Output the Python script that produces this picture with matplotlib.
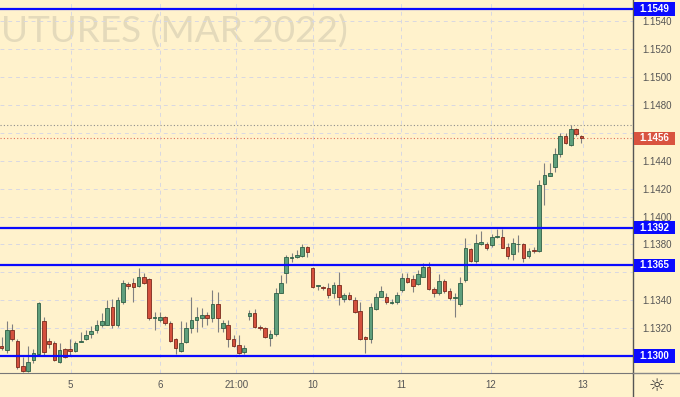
import numpy as np
import matplotlib.pyplot as plt
from matplotlib.patches import Rectangle
from matplotlib.lines import Line2D
from matplotlib import transforms

# Precios, en pips sobre la base 1.1300
base = 1.1300
opens = [7.2, 4.3, 18.6, 10.8, -7.2, -10.8, -2.9, 1.4, 25.1, 10.8, 9.3, -4.3, 5.0, 5.0, 3.6, 10.0, 12.2, 15.8, 18.6, 22.2,
         22.2, 35.1, 22.2, 38.7, 51.6, 52.3, 50.2, 56.6, 55.2, 27.2, 25.8, 28.0, 23.7, 12.2, 3.6, 10.0, 20.1, 25.8, 27.2, 29.4,
         27.2, 37.3, 20.1, 22.2, 12.2, 7.9, 2.6, 28.7, 30.8, 20.8, 20.1, 12.9, 15.8, 45.2, 59.5, 70.3, 71.0, 71.7, 78.1, 63.0,
         50.2, 49.5, 48.8, 45.0, 51.0, 40.7, 43.7, 40.2, 32.3, 13.8, 12.0, 33.7, 42.5, 42.5, 37.8, 38.5, 47.3, 55.7, 55.0, 51.6,
         56.9, 64.0, 47.8, 45.0, 53.8, 46.8, 41.8, 37.3, 54.5, 76.7, 68.3, 80.3, 80.1, 79.6, 85.5, 85.5, 78.4, 72.9, 80.3, 80.1,
         71.4, 76.0, 75.5, 123.1, 129.3, 135.7, 144.6, 157.7, 151.3, 162.5, 157.7]
highs = [13.6, 25.1, 22.9, 12.5, -0.7, 7.2, 5.0, 38.7, 28.0, 12.9, 10.8, 9.3, 5.7, 12.2, 10.8, 17.2, 18.6, 21.5, 25.8, 30.8,
         40.0, 41.0, 42.3, 54.5, 53.0, 55.9, 63.0, 59.5, 55.9, 31.5, 31.5, 28.7, 25.0, 12.9, 25.1, 24.4, 42.3, 35.0, 34.4, 31.5,
         47.3, 46.0, 25.8, 25.8, 15.0, 15.0, 7.9, 33.0, 33.7, 22.0, 20.8, 18.6, 48.8, 58.0, 72.4, 73.8, 76.0, 80.3, 78.9, 63.5,
         51.0, 50.5, 52.3, 53.3, 60.4, 45.0, 46.0, 42.5, 39.0, 14.3, 37.8, 45.0, 50.2, 45.0, 41.0, 46.0, 59.3, 59.3, 58.0, 61.7,
         66.9, 67.5, 49.7, 58.6, 55.5, 48.5, 45.0, 56.9, 84.4, 77.6, 87.3, 89.6, 81.9, 87.3, 91.0, 91.0, 80.8, 84.8, 86.8, 80.8,
         77.2, 78.4, 126.2, 138.2, 138.2, 148.9, 159.7, 159.7, 165.6, 163.3, 158.5]
lows = [4.3, 2.2, 10.8, -9.0, -11.5, -11.5, -5.0, 0.7, 0.7, 5.7, -3.6, -5.0, -1.4, 0.7, 3.0, 10.0, 11.5, 12.9, 16.5, 20.8,
        22.2, 20.0, 20.8, 37.3, 48.0, 38.7, 49.5, 51.6, 25.8, 18.6, 24.4, 22.0, 10.0, 1.4, 2.9, 9.3, 16.5, 17.2, 20.8, 22.2,
        24.4, 17.2, 17.2, 6.5, 6.5, 1.4, 1.4, 25.8, 20.0, 18.6, 12.9, 7.2, 14.3, 45.0, 52.3, 67.4, 70.3, 71.0, 71.0, 49.0,
        47.3, 47.0, 41.6, 41.4, 36.6, 39.0, 40.0, 30.6, 11.5, 1.9, 9.1, 33.0, 42.0, 37.3, 37.0, 37.3, 46.0, 52.0, 46.0, 51.0,
        56.9, 47.3, 42.5, 43.7, 45.0, 40.2, 28.2, 35.8, 53.3, 67.4, 66.5, 79.6, 76.0, 78.4, 84.6, 77.2, 69.3, 68.8, 74.8, 67.2,
        70.3, 73.6, 74.8, 108.3, 129.0, 132.1, 142.9, 152.0, 150.6, 157.7, 152.9]
closes = [5.7, 18.6, 12.2, -7.9, -10.8, -4.3, 2.2, 38.0, 2.9, 8.6, -2.9, 4.3, -0.7, 3.6, 9.3, 10.8, 15.0, 17.9, 22.2, 25.1,
          34.4, 22.2, 40.2, 52.3, 50.2, 49.5, 56.6, 52.3, 27.2, 27.9, 28.0, 23.7, 10.8, 5.7, 9.3, 20.1, 25.8, 28.0, 29.4, 27.2,
          37.3, 27.2, 23.7, 12.2, 7.2, 2.2, 6.0, 30.8, 20.8, 20.1, 13.6, 15.8, 45.2, 52.3, 71.0, 71.0, 72.4, 78.1, 74.6, 49.5,
          50.9, 48.8, 43.7, 51.0, 42.0, 43.7, 40.7, 31.8, 12.0, 12.0, 35.1, 42.5, 46.8, 38.5, 38.9, 43.7, 55.7, 53.3, 50.4, 58.8,
          64.0, 47.8, 45.0, 53.8, 46.6, 41.8, 42.5, 52.6, 77.2, 68.3, 80.8, 81.9, 77.6, 85.5, 85.8, 77.6, 71.7, 80.8, 80.5, 70.5,
          75.3, 75.3, 122.6, 129.8, 131.0, 144.6, 157.7, 152.5, 162.5, 159.2, 156.0]

niveles = [1.1549, 1.1392, 1.1365, 1.1300]          # líneas horizontales azules
ultimo = 1.1456                                       # último precio
maximo = 1.14656                                      # máximo visible (línea punteada gris)

precios_eje = [1.1320, 1.1340, 1.1380, 1.1400, 1.1420, 1.1440, 1.1480, 1.1500, 1.1520, 1.1540]
fechas = ['5', '6', '21:00', '10', '11', '12', '13']
pos_fechas = [13.1, 30.0, 44.5, 59.1, 75.8, 92.8, 110.3]

o = base + np.array(opens) / 10000
h = base + np.array(highs) / 10000
l = base + np.array(lows) / 10000
c = base + np.array(closes) / 10000
x = np.arange(len(o))

fondo = '#fff2cc'
verde, verde_borde = '#5f9f7c', '#2f5f45'
rojo, rojo_borde = '#d4503d', '#7a2a1c'

fig = plt.figure(figsize=(6.8, 3.97), dpi=100, facecolor=fondo)
ax = fig.add_axes([0, 24 / 397, 633 / 680, 373 / 397], facecolor=fondo)
ax.set_axisbelow(True)

# velas
ax.vlines(x, l, h, color='#808080', lw=0.8, zorder=2)
sube = c >= o
cuerpo = np.maximum(np.abs(c - o), 0.00003)
ax.bar(x[sube], cuerpo[sube], bottom=np.minimum(o, c)[sube], width=0.68,
       color=verde, edgecolor=verde_borde, linewidth=0.6, zorder=3)
ax.bar(x[~sube], cuerpo[~sube], bottom=np.minimum(o, c)[~sube], width=0.68,
       color=rojo, edgecolor=rojo_borde, linewidth=0.6, zorder=3)

# líneas de nivel
for nv in niveles:
    ax.axhline(nv, color='#0a0aff', lw=1.6, zorder=4)
ax.axhline(maximo, color='#8c8c8c', lw=0.8, ls=(0, (1, 2)), zorder=1.5)
ax.axhline(ultimo, color='#e0705a', lw=0.8, ls=(0, (1, 2)), zorder=1.5)

ax.set_xlim(-0.32, 119.8)
ax.set_ylim(1.12878, 1.15553)

# rejilla horizontal cada 0.0020 (también bajo las etiquetas tapadas)
for g in np.arange(1.1300, 1.15401, 0.0020):
    ax.axhline(g, color='#d8d8e2', lw=0.7, ls=(0, (4, 4)), zorder=0.3)
ax.set_yticks(precios_eje)
ax.yaxis.set_major_formatter(plt.FuncFormatter(lambda v, p: '%.4f' % v))
ax.yaxis.tick_right()
ax.set_xticks(pos_fechas)
ax.set_xticklabels(fechas)
ax.tick_params(axis='both', length=0, colors='#555555', labelsize=7)
ax.tick_params(axis='y', pad=7)
ax.tick_params(axis='x', pad=5)
for t in ax.get_xticklabels() + ax.get_yticklabels():
    t.set_family('Liberation Sans')
ax.grid(True, axis='x', color='#d8d8e2', lw=0.7, ls=(0, (4, 4)))

ax.spines['top'].set_visible(False)
ax.spines['left'].set_visible(False)
ax.spines['right'].set_color('#555555')
ax.spines['right'].set_linewidth(1)
ax.spines['bottom'].set_color('#777777')
ax.spines['bottom'].set_linestyle((0, (1, 1)))

fig.add_artist(Line2D([633 / 680, 633 / 680], [0, 24 / 397], color='#555555', lw=1))
fig.add_artist(Line2D([633 / 680, 1], [24 / 397, 24 / 397], color='#888888', lw=1))

# etiquetas de precio
trans = transforms.blended_transform_factory(ax.transAxes, ax.transData)
alto = 13.5 / 1.394 / 10000
for nv, col in [(n, '#0a0aff') for n in niveles] + [(ultimo, '#d9533f')]:
    ax.add_patch(Rectangle((1.0008, nv - alto / 2), 41 / 633, alto, transform=trans,
                           facecolor=col, edgecolor='none', clip_on=False, zorder=6))
    ax.text(1.0008 + 20.5 / 633, nv, '%.4f' % nv, transform=trans, ha='center', va='center',
            color='white', fontsize=7, fontweight='bold', family='Liberation Sans',
            clip_on=False, zorder=7)

# marca de agua
ax.text(1 / 633, (373 - 43) / 373, 'UTURES (MAR 2022)', transform=ax.transAxes,
        ha='left', va='baseline', fontsize=26.6, color='#e4dabb', family='Lato',
        zorder=0.2)

fig.text(657 / 680, 11 / 397, '\u263c', ha='center', va='center', fontsize=13, color='#333333',
         family='DejaVu Sans')

fig.savefig('out.png', dpi=100, facecolor=fondo)
